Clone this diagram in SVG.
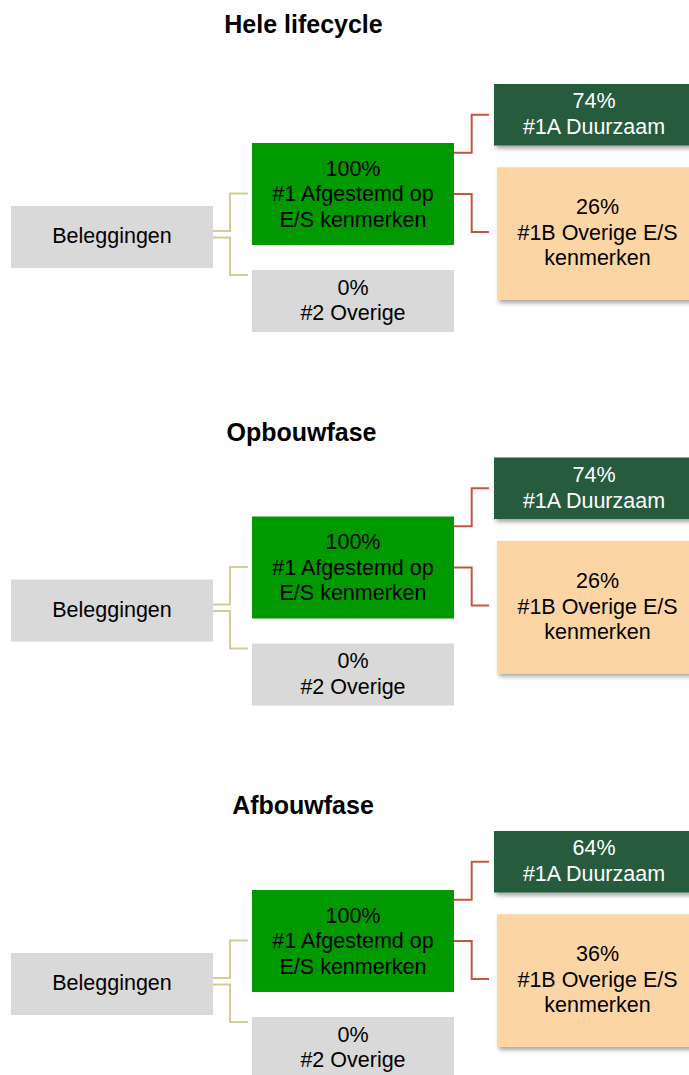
<svg xmlns="http://www.w3.org/2000/svg" width="689" height="1075" viewBox="0 0 689 1075">
<style>
text{font-family:"Liberation Sans",Arial,sans-serif;font-size:21.5px;fill:#000;text-anchor:middle}
.title{font-weight:bold;font-size:25px}
.w{fill:#fff}
.gray{fill:#d9d9d9}
.green{fill:#009900}
.dark{fill:#265b3c}
.peach{fill:#fcd5a5}
.cy{fill:none;stroke:#d3cc97;stroke-width:2}
.cr{fill:none;stroke:#c8553a;stroke-width:2}
</style>
<defs>
<filter id="sh" x="-10%" y="-10%" width="130%" height="140%">
<feDropShadow dx="2" dy="3" stdDeviation="2" flood-color="#000" flood-opacity="0.35"/>
</filter>
</defs>

<g id="titles">
<text class="title" x="303.5" y="32.7">Hele lifecycle</text>
<text class="title" x="301.5" y="440.5">Opbouwfase</text>
<text class="title" x="303" y="814.3">Afbouwfase</text>
</g>

<g id="connectors">
<g id="connectors-1">
<path class="cy" d="M213,231 H230 V193.5 H248"/>
<path class="cy" d="M213,237.5 H230 V275 H248"/>
<path class="cr" d="M454,152.7 H471.7 V114.7 H489"/>
<path class="cr" d="M454,194 H471.7 V232 H489"/>
</g>
<g id="connectors-2" transform="translate(0,373.5)">
<path class="cy" d="M213,231 H230 V193.5 H248"/>
<path class="cy" d="M213,237.5 H230 V275 H248"/>
<path class="cr" d="M454,152.7 H471.7 V114.7 H489"/>
<path class="cr" d="M454,194 H471.7 V232 H489"/>
</g>
<g id="connectors-3" transform="translate(0,747)">
<path class="cy" d="M213,231 H230 V193.5 H248"/>
<path class="cy" d="M213,237.5 H230 V275 H248"/>
<path class="cr" d="M454,152.7 H471.7 V114.7 H489"/>
<path class="cr" d="M454,194 H471.7 V232 H489"/>
</g>
</g>

<g id="sectie-hele-lifecycle">
<g id="n1-beleggingen">
<rect class="gray" x="11" y="206" width="202" height="62"/>
<text x="112" y="243">Beleggingen</text>
</g>
<g id="n1-afgestemd">
<rect class="green" x="252" y="143" width="202" height="102"/>
<text x="353" y="175.5">100%</text>
<text x="353" y="201">#1 Afgestemd op</text>
<text x="353" y="226.5">E/S kenmerken</text>
</g>
<g id="n1-overige">
<rect class="gray" x="252" y="270" width="202" height="62"/>
<text x="353" y="294.5">0%</text>
<text x="353" y="320">#2 Overige</text>
</g>
<g id="n1-duurzaam">
<rect class="dark" filter="url(#sh)" x="494" y="84" width="200" height="61.5"/>
<text class="w" x="594" y="108.3">74%</text>
<text class="w" x="594" y="134.3">#1A Duurzaam</text>
</g>
<g id="n1-overige-es">
<rect class="peach" filter="url(#sh)" x="497" y="167.3" width="201" height="132.7"/>
<text x="597.5" y="214.3">26%</text>
<text x="597.5" y="240">#1B Overige E/S</text>
<text x="597.5" y="265">kenmerken</text>
</g>
</g>

<g id="sectie-opbouwfase" transform="translate(0,373.5)">
<g id="n2-beleggingen">
<rect class="gray" x="11" y="206" width="202" height="62"/>
<text x="112" y="243">Beleggingen</text>
</g>
<g id="n2-afgestemd">
<rect class="green" x="252" y="143" width="202" height="102"/>
<text x="353" y="175.5">100%</text>
<text x="353" y="201">#1 Afgestemd op</text>
<text x="353" y="226.5">E/S kenmerken</text>
</g>
<g id="n2-overige">
<rect class="gray" x="252" y="270" width="202" height="62"/>
<text x="353" y="294.5">0%</text>
<text x="353" y="320">#2 Overige</text>
</g>
<g id="n2-duurzaam">
<rect class="dark" filter="url(#sh)" x="494" y="84" width="200" height="61.5"/>
<text class="w" x="594" y="108.3">74%</text>
<text class="w" x="594" y="134.3">#1A Duurzaam</text>
</g>
<g id="n2-overige-es">
<rect class="peach" filter="url(#sh)" x="497" y="167.3" width="201" height="132.7"/>
<text x="597.5" y="214.3">26%</text>
<text x="597.5" y="240">#1B Overige E/S</text>
<text x="597.5" y="265">kenmerken</text>
</g>
</g>

<g id="sectie-afbouwfase" transform="translate(0,747)">
<g id="n3-beleggingen">
<rect class="gray" x="11" y="206" width="202" height="62"/>
<text x="112" y="243">Beleggingen</text>
</g>
<g id="n3-afgestemd">
<rect class="green" x="252" y="143" width="202" height="102"/>
<text x="353" y="175.5">100%</text>
<text x="353" y="201">#1 Afgestemd op</text>
<text x="353" y="226.5">E/S kenmerken</text>
</g>
<g id="n3-overige">
<rect class="gray" x="252" y="270" width="202" height="62"/>
<text x="353" y="294.5">0%</text>
<text x="353" y="320">#2 Overige</text>
</g>
<g id="n3-duurzaam">
<rect class="dark" filter="url(#sh)" x="494" y="84" width="200" height="61.5"/>
<text class="w" x="594" y="108.3">64%</text>
<text class="w" x="594" y="134.3">#1A Duurzaam</text>
</g>
<g id="n3-overige-es">
<rect class="peach" filter="url(#sh)" x="497" y="167.3" width="201" height="132.7"/>
<text x="597.5" y="214.3">36%</text>
<text x="597.5" y="240">#1B Overige E/S</text>
<text x="597.5" y="265">kenmerken</text>
</g>
</g>
</svg>
